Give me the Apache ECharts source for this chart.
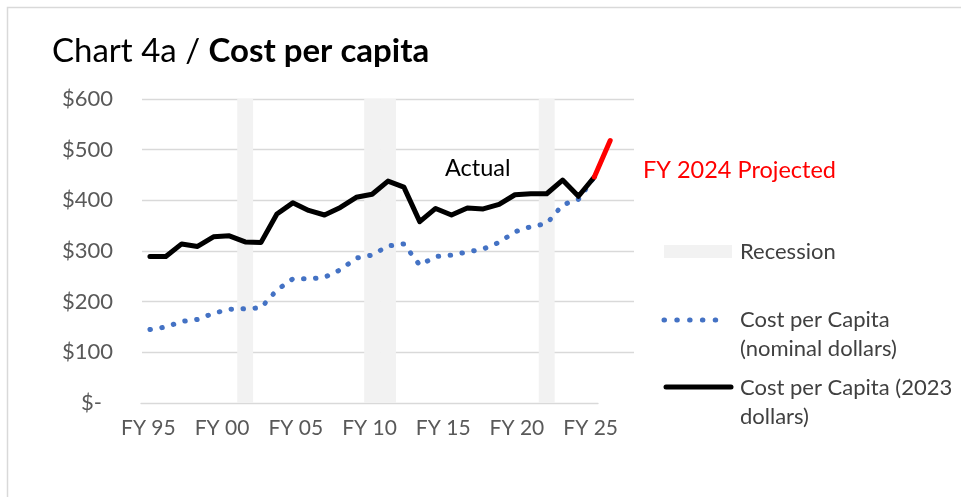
<!DOCTYPE html>
<html><head><meta charset="utf-8">
<script src="https://cdn.jsdelivr.net/npm/echarts@6/dist/echarts.min.js"></script>
<style>html,body{margin:0;padding:0;background:#fff}#c{width:961px;height:497px}</style>
</head><body><div id="c"></div>
<script>
// ---- data ----
const years = ['FY 95','FY 96','FY 97','FY 98','FY 99','FY 00','FY 01','FY 02','FY 03','FY 04',
  'FY 05','FY 06','FY 07','FY 08','FY 09','FY 10','FY 11','FY 12','FY 13','FY 14',
  'FY 15','FY 16','FY 17','FY 18','FY 19','FY 20','FY 21','FY 22','FY 23','FY 24','FY 25'];
// FY95 .. FY23
const nominalDollars = [145,150,161,165,177,185,186,188,223,245,
  245,248,263,286,292,310,314,272,289,292,
  298,304,317,338,348,354,391,402,446];
// FY95 .. FY23
const realDollars2023 = [289,289,314,309,328,330,318,317,373,395,
  380,371,386,406,412,438,426,358,384,371,
  385,383,392,411,413,413,440,408,446];
const projectedYears = ['FY 23','FY 24'];
const projectedValues = [446, 518];
const recessionYears = ['FY 01','FY 09','FY 10','FY 20'];
const yTicks = [0,100,200,300,400,500,600];

// ---- build ----
const FONT = 'Lato, "Open Sans", sans-serif';
const yMax = yTicks[yTicks.length-1];
const recessionData = years.map(y => recessionYears.includes(y) ? yMax : null);
const projectedData = years.map(y => {
  const i = projectedYears.indexOf(y);
  return i >= 0 ? projectedValues[i] : null;
});

const chart = echarts.init(document.getElementById('c'), null, {renderer:'canvas'});
chart.setOption({
  animation: false,
  backgroundColor: '#ffffff',
  grid: [
    {left: 142, top: 99, width: 492, height: 304},
    {left: 141, top: 99, width: 457, height: 304}
  ],
  xAxis: [
    {gridIndex: 0, type: 'category', data: years, boundaryGap: true,
     axisLine: {show: false}, axisTick: {show: false}, axisLabel: {show: false}, splitLine: {show: false}},
    {gridIndex: 1, type: 'category', data: years, boundaryGap: true,
     axisLine: {show: true, lineStyle: {color: '#d9d9d9', width: 1.3}},
     axisTick: {show: false},
     axisLabel: {interval: 4, color: '#595959', fontSize: 21, fontFamily: FONT, margin: 15},
     splitLine: {show: false}}
  ],
  yAxis: [
    {gridIndex: 0, type: 'value', min: yTicks[0], max: yMax, interval: 100,
     axisLine: {show: false}, axisTick: {show: false},
     axisLabel: {color: '#595959', fontSize: 22, fontFamily: FONT, margin: 29,
       formatter: v => v === 0 ? '{z|$-}' : '$' + v,
       rich: {z: {color: '#595959', fontSize: 22, fontFamily: FONT, padding: [0, 11, 0, 0]}}},
     splitLine: {show: true, lineStyle: {color: ['rgba(0,0,0,0)','#d9d9d9','#d9d9d9','#d9d9d9','#d9d9d9','#d9d9d9','#d9d9d9'], width: 1.3}}},
    {gridIndex: 1, type: 'value', min: yTicks[0], max: yMax, show: false}
  ],
  series: [
    {name: 'Recession', type: 'bar', xAxisIndex: 0, yAxisIndex: 0, data: recessionData,
     barWidth: '100%', itemStyle: {color: '#f2f2f2'}, silent: true, z: 1},
    {name: 'Cost per Capita (nominal dollars)', type: 'line', xAxisIndex: 0, yAxisIndex: 0,
     data: nominalDollars, symbol: 'none', z: 3,
     lineStyle: {color: '#4472c4', width: 5, type: [0.5, 11.5], cap: 'round', join: 'round'}},
    {name: 'Cost per Capita (2023 dollars)', type: 'line', xAxisIndex: 0, yAxisIndex: 0,
     data: realDollars2023, symbol: 'none', z: 4,
     lineStyle: {color: '#000000', width: 5, cap: 'round', join: 'round'}},
    {name: 'FY 2024 Projected', type: 'line', xAxisIndex: 0, yAxisIndex: 0,
     data: projectedData, symbol: 'none', z: 5, connectNulls: false,
     lineStyle: {color: '#ff0000', width: 5, cap: 'round', join: 'round'}}
  ],
  graphic: [
    {type: 'rect', shape: {x: 7.5, y: 7.5, width: 1000, height: 600}, style: {fill: 'none', stroke: '#d9d9d9', lineWidth: 1.5}, silent: true},
    {type: 'text', x: 52, y: 51, style: {text: '{a|Chart 4a / }{b|Cost per capita}', verticalAlign: 'middle',
      rich: {a: {fontSize: 33, fontFamily: FONT, fill: '#000'}, b: {fontSize: 33, fontFamily: FONT, fontWeight: 'bold', fill: '#000'}}}},
    {type: 'text', x: 445, y: 168, style: {text: 'Actual', font: '23.5px ' + FONT, fill: '#000', verticalAlign: 'middle'}},
    {type: 'text', x: 643, y: 170, style: {text: 'FY 2024 Projected', font: '23.5px ' + FONT, fill: '#ff0000', verticalAlign: 'middle'}},
    // legend
    {type: 'rect', shape: {x: 664, y: 245, width: 68, height: 13}, style: {fill: '#f2f2f2'}},
    {type: 'text', x: 740, y: 252, style: {text: 'Recession', font: '22px ' + FONT, fill: '#404040', verticalAlign: 'middle'}},
    {type: 'line', shape: {x1: 664, y1: 320, x2: 728, y2: 320}, style: {stroke: '#4472c4', lineWidth: 5, lineDash: [0.5, 12.3], lineCap: 'round'}},
    {type: 'text', x: 740, y: 334.5, style: {text: 'Cost per Capita\n(nominal dollars)', font: '22px ' + FONT, lineHeight: 29, fill: '#404040', verticalAlign: 'middle'}},
    {type: 'line', shape: {x1: 666, y1: 387, x2: 731, y2: 387}, style: {stroke: '#000', lineWidth: 5, lineCap: 'round'}},
    {type: 'text', x: 740, y: 402.5, style: {text: 'Cost per Capita (2023\ndollars)', font: '22px ' + FONT, lineHeight: 29, fill: '#404040', verticalAlign: 'middle'}}
  ]
});
</script>
</body></html>
